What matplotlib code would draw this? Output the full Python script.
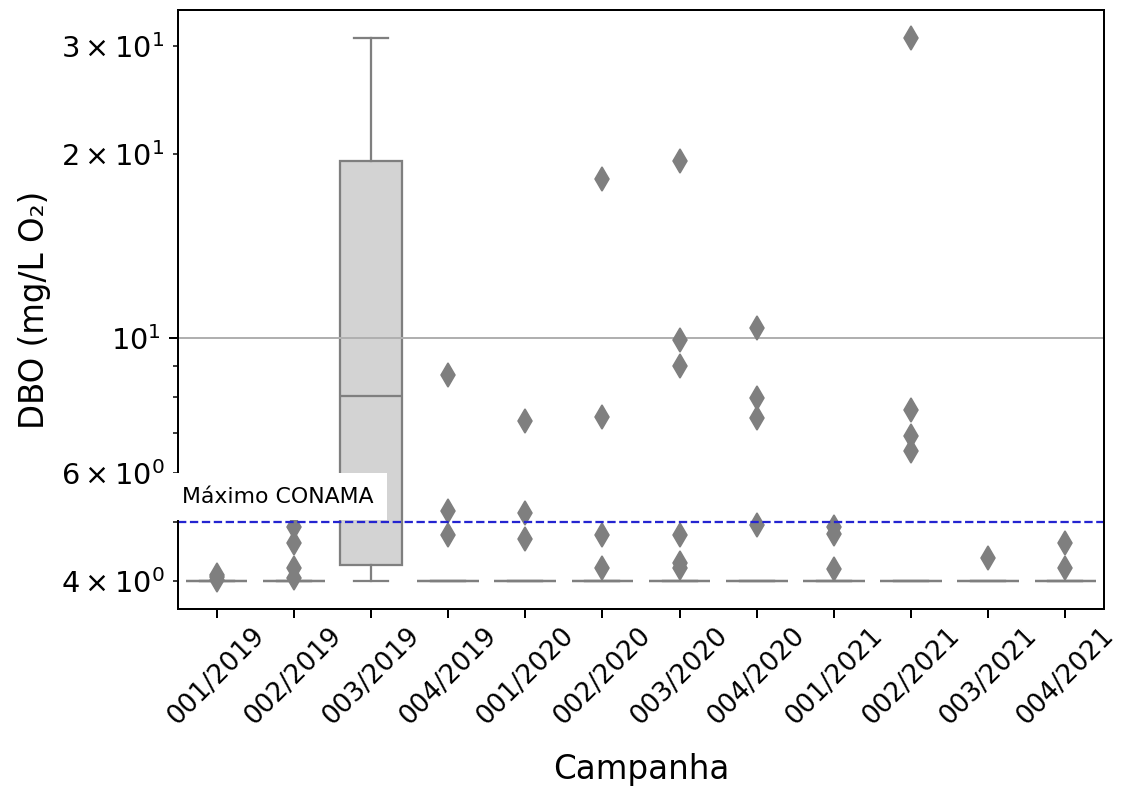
import matplotlib
matplotlib.use("Agg")
import matplotlib.pyplot as plt

categories = ['001/2019', '002/2019', '003/2019', '004/2019',
              '001/2020', '002/2020', '003/2020', '004/2020',
              '001/2021', '002/2021', '003/2021', '004/2021']

q1 = [4.0, 4.0, 4.25, 4.0, 4.0, 4.0, 4.0, 4.0, 4.0, 4.0, 4.0, 4.0]
median = [4.0, 4.0, 8.04, 4.0, 4.0, 4.0, 4.0, 4.0, 4.0, 4.0, 4.0, 4.0]
q3 = [4.0, 4.0, 19.5, 4.0, 4.0, 4.0, 4.0, 4.0, 4.0, 4.0, 4.0, 4.0]
whisker_low = [4.0, 4.0, 4.0, 4.0, 4.0, 4.0, 4.0, 4.0, 4.0, 4.0, 4.0, 4.0]
whisker_high = [4.0, 4.0, 31.0, 4.0, 4.0, 4.0, 4.0, 4.0, 4.0, 4.0, 4.0, 4.0]

outliers = [
    [4.02, 4.06, 4.1],
    [4.9, 4.62, 4.2, 4.05],
    [],
    [8.7, 5.2, 4.76],
    [7.3, 5.16, 4.68],
    [18.2, 7.42, 4.76, 4.2],
    [19.5, 9.92, 8.98, 4.76, 4.28, 4.2],
    [10.37, 7.98, 7.4, 4.95],
    [4.9, 4.77, 4.18],
    [31.0, 7.62, 6.92, 6.53],
    [4.37],
    [4.61, 4.2],
]

limit_value = 5.0
limit_label = 'Máximo CONAMA'

DPI = 180
fig = plt.figure(figsize=(1132 / DPI, 798 / DPI), dpi=DPI)
ax = fig.add_axes([0.1572, 0.2368, 0.9753 - 0.1572, 0.98747 - 0.2368])

stats = []
for i, lab in enumerate(categories):
    stats.append(dict(label=lab, q1=q1[i], med=median[i], q3=q3[i],
                      whislo=whisker_low[i], whishi=whisker_high[i],
                      fliers=outliers[i]))

line_gray = '#7f7f7f'
bp = ax.bxp(stats, positions=list(range(len(categories))), widths=0.8,
            capwidths=0.44, patch_artist=True, showfliers=True,
            boxprops=dict(facecolor='#d3d3d3', edgecolor=line_gray, linewidth=0.9),
            medianprops=dict(color=line_gray, linewidth=0.9),
            whiskerprops=dict(color=line_gray, linewidth=0.9),
            capprops=dict(color=line_gray, linewidth=0.9),
            flierprops=dict(marker='d', markersize=7, markerfacecolor=line_gray,
                            markeredgecolor=line_gray, markeredgewidth=0.6,
                            linestyle='none'))
for b in bp['boxes']:
    b.set_zorder(1)

ax.set_yscale('log')
ax.set_xlim(-0.5, len(categories) - 0.5)
ax.set_ylim(3.6, 34.4)

ax.grid(axis='y', which='major', color='#b0b0b0', linewidth=0.8)
ax.set_axisbelow('line')

ax.axhline(limit_value, color='#2424d0', linestyle='--', linewidth=0.9, zorder=2.2)
ax.text(-0.45, 5.5, limit_label, fontsize=8.8, va='center', ha='left',
        bbox=dict(facecolor='white', edgecolor='none', pad=5.5), zorder=4)

ax.set_xticks(list(range(len(categories))))
ax.set_xticklabels(categories, rotation=45, fontsize=10.5)
ax.tick_params(axis='x', pad=2)
ax.tick_params(axis='y', which='both', labelsize=11.5)
ax.set_xlabel('Campanha', fontsize=13, labelpad=9)
ax.set_ylabel('DBO (mg/L O₂)', fontsize=13)

fig.savefig('out.png', dpi=DPI)
